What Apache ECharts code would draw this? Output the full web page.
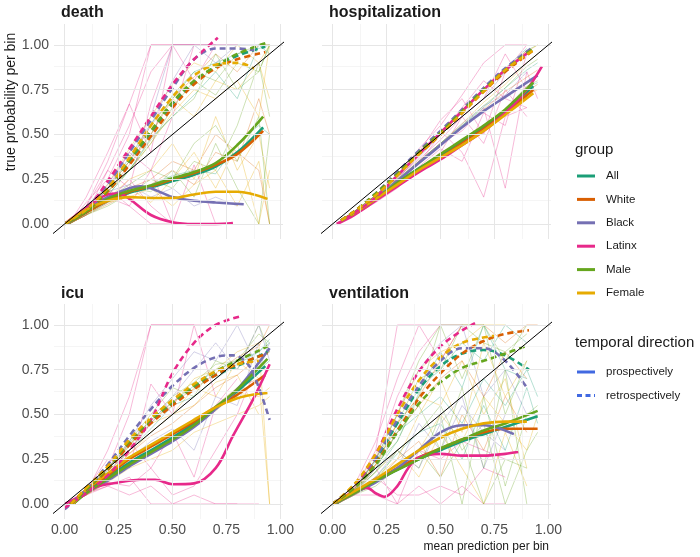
<!DOCTYPE html>
<html><head><meta charset="utf-8">
<script src="https://cdn.jsdelivr.net/npm/echarts@6/dist/echarts.min.js"></script>
<style>html,body{margin:0;padding:0;background:#fff}#c{width:700px;height:557px}</style>
</head><body><div id="c"></div><script>
const groups = ['All','White','Black','Latinx','Male','Female'];
const groupColors = ['#1B9E77','#D95F02','#7570B3','#E7298A','#66A61E','#E6AB02'];
const directions = ['prospectively','retrospectively'];
const directionColor = '#4169E1';
const panelTitles = ['death','hospitalization','icu','ventilation'];
const tickValues = [0,0.25,0.5,0.75,1];
const majorGrid = [0,0.25,0.5,0.75,1];
const minorGrid = [0.125,0.375,0.625,0.875];
const xRange = [-0.049, 1.012];
const yRange = [-0.084, 1.117];
const diagonal = [[-0.2,-0.2],[1.2,1.2]];

// ---- smoothed curves: [mean prediction, true probability] ----
const deathPro = {
  All:    [[0,0],[0.1,0.065],[0.2,0.13],[0.3,0.175],[0.4,0.205],[0.5,0.24],[0.6,0.275],[0.7,0.32],[0.8,0.4],[0.92,0.54]],
  White:  [[0,0],[0.1,0.065],[0.2,0.13],[0.3,0.18],[0.4,0.21],[0.5,0.25],[0.6,0.285],[0.7,0.33],[0.8,0.39],[0.92,0.52]],
  Black:  [[0,0],[0.1,0.08],[0.2,0.15],[0.3,0.2],[0.35,0.21],[0.4,0.2],[0.5,0.15],[0.6,0.13],[0.7,0.12],[0.83,0.11]],
  Latinx: [[0,0],[0.1,0.09],[0.2,0.165],[0.25,0.17],[0.3,0.14],[0.4,0.05],[0.5,0.01],[0.6,0],[0.7,0],[0.78,0.005]],
  Male:   [[0,0],[0.1,0.07],[0.2,0.14],[0.3,0.185],[0.4,0.215],[0.5,0.255],[0.6,0.29],[0.7,0.34],[0.8,0.44],[0.92,0.6]],
  Female: [[0,0],[0.1,0.08],[0.2,0.13],[0.3,0.15],[0.4,0.145],[0.5,0.145],[0.6,0.165],[0.7,0.18],[0.8,0.18],[0.94,0.14]]
};
const deathRetro = {
  All:    [[0,0],[0.1,0.07],[0.2,0.19],[0.3,0.35],[0.4,0.51],[0.5,0.67],[0.6,0.79],[0.7,0.88],[0.8,0.94],[0.93,0.99]],
  White:  [[0,0],[0.1,0.07],[0.2,0.18],[0.3,0.33],[0.4,0.49],[0.5,0.65],[0.6,0.78],[0.7,0.87],[0.8,0.92],[0.93,0.96]],
  Black:  [[0,0],[0.1,0.08],[0.2,0.22],[0.3,0.4],[0.4,0.58],[0.5,0.76],[0.6,0.92],[0.7,0.98],[0.8,0.98],[0.88,0.97]],
  Latinx: [[0,0],[0.1,0.08],[0.2,0.24],[0.3,0.42],[0.4,0.6],[0.5,0.78],[0.6,0.92],[0.71,1.04]],
  Male:   [[0,0],[0.1,0.07],[0.2,0.19],[0.3,0.36],[0.4,0.52],[0.5,0.68],[0.6,0.8],[0.7,0.88],[0.8,0.95],[0.93,1.01]],
  Female: [[0,0],[0.1,0.08],[0.2,0.2],[0.3,0.37],[0.4,0.55],[0.5,0.71],[0.6,0.83],[0.7,0.89],[0.8,0.9],[0.88,0.87]]
};
const hospPro = {
  All:    [[0.04,0.02],[0.1,0.06],[0.2,0.14],[0.3,0.23],[0.4,0.31],[0.5,0.38],[0.6,0.46],[0.7,0.54],[0.8,0.63],[0.93,0.77]],
  White:  [[0.04,0.02],[0.1,0.06],[0.2,0.14],[0.3,0.22],[0.4,0.3],[0.5,0.37],[0.6,0.45],[0.7,0.53],[0.8,0.62],[0.93,0.75]],
  Black:  [[0.04,0.02],[0.1,0.06],[0.2,0.14],[0.3,0.24],[0.4,0.34],[0.5,0.44],[0.6,0.54],[0.7,0.63],[0.8,0.71],[0.95,0.83]],
  Latinx: [[0.02,0],[0.1,0.05],[0.2,0.13],[0.3,0.21],[0.4,0.29],[0.5,0.36],[0.6,0.44],[0.7,0.52],[0.8,0.62],[0.9,0.75],[0.97,0.88]],
  Male:   [[0.04,0.02],[0.1,0.06],[0.2,0.14],[0.3,0.23],[0.4,0.31],[0.5,0.39],[0.6,0.47],[0.7,0.55],[0.8,0.64],[0.93,0.79]],
  Female: [[0.04,0.02],[0.1,0.06],[0.2,0.14],[0.3,0.22],[0.4,0.3],[0.5,0.37],[0.6,0.44],[0.7,0.52],[0.8,0.61],[0.93,0.73]]
};
const hospRetro = {
  All:    [[0.04,0.02],[0.1,0.07],[0.2,0.16],[0.3,0.28],[0.4,0.4],[0.5,0.51],[0.6,0.63],[0.7,0.75],[0.8,0.86],[0.93,0.98]],
  White:  [[0.04,0.02],[0.1,0.07],[0.2,0.16],[0.3,0.28],[0.4,0.39],[0.5,0.5],[0.6,0.62],[0.7,0.74],[0.8,0.85],[0.93,0.97]],
  Black:  [[0.04,0.02],[0.1,0.07],[0.2,0.17],[0.3,0.29],[0.4,0.41],[0.5,0.52],[0.6,0.64],[0.7,0.76],[0.8,0.87],[0.93,0.99]],
  Latinx: [[0.02,0],[0.1,0.06],[0.2,0.15],[0.3,0.27],[0.4,0.39],[0.5,0.51],[0.6,0.63],[0.7,0.75],[0.8,0.86],[0.92,0.97]],
  Male:   [[0.04,0.02],[0.1,0.07],[0.2,0.17],[0.3,0.28],[0.4,0.4],[0.5,0.51],[0.6,0.63],[0.7,0.75],[0.8,0.86],[0.93,0.98]],
  Female: [[0.04,0.02],[0.1,0.07],[0.2,0.16],[0.3,0.27],[0.4,0.39],[0.5,0.5],[0.6,0.62],[0.7,0.74],[0.8,0.86],[0.93,0.97]]
};
const icuPro = {
  All:    [[0.04,0],[0.1,0.07],[0.2,0.15],[0.3,0.23],[0.4,0.3],[0.5,0.37],[0.6,0.45],[0.7,0.54],[0.8,0.63],[0.93,0.77]],
  White:  [[0.04,0],[0.1,0.08],[0.2,0.16],[0.3,0.25],[0.4,0.32],[0.5,0.39],[0.6,0.46],[0.7,0.54],[0.8,0.61],[0.93,0.72]],
  Black:  [[0.04,0],[0.1,0.06],[0.2,0.13],[0.3,0.21],[0.4,0.28],[0.5,0.35],[0.6,0.43],[0.7,0.53],[0.8,0.64],[0.95,0.87]],
  Latinx: [[0,0],[0.05,0.03],[0.1,0.07],[0.16,0.1],[0.25,0.12],[0.35,0.135],[0.42,0.135],[0.5,0.11],[0.6,0.115],[0.7,0.2],[0.78,0.38],[0.88,0.6],[0.95,0.78]],
  Male:   [[0.04,0],[0.1,0.06],[0.2,0.14],[0.3,0.22],[0.4,0.29],[0.5,0.36],[0.6,0.44],[0.7,0.54],[0.8,0.64],[0.94,0.81]],
  Female: [[0.04,0],[0.1,0.08],[0.2,0.17],[0.3,0.26],[0.4,0.33],[0.5,0.4],[0.6,0.47],[0.7,0.54],[0.8,0.59],[0.87,0.61],[0.94,0.62]]
};
const icuRetro = {
  All:    [[0.03,0],[0.1,0.08],[0.2,0.2],[0.3,0.34],[0.4,0.46],[0.5,0.56],[0.6,0.65],[0.7,0.72],[0.8,0.77],[0.94,0.85]],
  White:  [[0.03,0],[0.1,0.08],[0.2,0.19],[0.3,0.33],[0.4,0.45],[0.5,0.55],[0.6,0.64],[0.7,0.72],[0.8,0.78],[0.94,0.84]],
  Black:  [[0,-0.03],[0.1,0.08],[0.2,0.22],[0.3,0.38],[0.4,0.53],[0.5,0.66],[0.6,0.76],[0.7,0.82],[0.78,0.83],[0.85,0.78],[0.9,0.65],[0.95,0.47]],
  Latinx: [[0,-0.02],[0.1,0.06],[0.2,0.16],[0.3,0.3],[0.4,0.47],[0.5,0.73],[0.6,0.9],[0.7,1.0],[0.82,1.05]],
  Male:   [[0.03,0],[0.1,0.08],[0.2,0.2],[0.3,0.35],[0.4,0.47],[0.5,0.57],[0.6,0.66],[0.7,0.74],[0.8,0.8],[0.94,0.88]],
  Female: [[0.03,0],[0.1,0.09],[0.2,0.21],[0.3,0.36],[0.4,0.48],[0.5,0.58],[0.6,0.67],[0.7,0.74],[0.8,0.78],[0.9,0.8]]
};
const ventPro = {
  All:    [[0,0],[0.1,0.06],[0.2,0.13],[0.3,0.19],[0.4,0.25],[0.5,0.3],[0.6,0.35],[0.7,0.39],[0.8,0.43],[0.95,0.49]],
  White:  [[0,0],[0.1,0.06],[0.2,0.13],[0.3,0.2],[0.4,0.26],[0.5,0.31],[0.6,0.36],[0.7,0.4],[0.8,0.42],[0.95,0.42]],
  Black:  [[0,0],[0.1,0.06],[0.2,0.12],[0.3,0.2],[0.4,0.3],[0.5,0.4],[0.6,0.44],[0.7,0.44],[0.84,0.39]],
  Latinx: [[0,0],[0.1,0.07],[0.16,0.09],[0.2,0.06],[0.24,0.04],[0.3,0.1],[0.35,0.2],[0.4,0.26],[0.5,0.28],[0.6,0.27],[0.7,0.27],[0.8,0.28],[0.86,0.29]],
  Male:   [[0,0],[0.1,0.06],[0.2,0.13],[0.3,0.19],[0.4,0.25],[0.5,0.31],[0.6,0.36],[0.7,0.41],[0.8,0.45],[0.95,0.52]],
  Female: [[0,0],[0.1,0.07],[0.2,0.14],[0.3,0.22],[0.4,0.3],[0.5,0.37],[0.6,0.42],[0.7,0.45],[0.8,0.46],[0.9,0.46]]
};
const ventRetro = {
  All:    [[0,0],[0.1,0.1],[0.2,0.25],[0.3,0.45],[0.4,0.64],[0.5,0.77],[0.6,0.84],[0.7,0.86],[0.8,0.83],[0.91,0.75]],
  White:  [[0,0],[0.1,0.09],[0.2,0.23],[0.3,0.41],[0.4,0.59],[0.5,0.73],[0.6,0.84],[0.7,0.91],[0.8,0.95],[0.91,0.97]],
  Black:  [[0,0],[0.1,0.1],[0.2,0.26],[0.3,0.47],[0.4,0.66],[0.5,0.8],[0.6,0.87],[0.7,0.87],[0.8,0.8],[0.9,0.65]],
  Latinx: [[0,0],[0.1,0.1],[0.2,0.28],[0.3,0.53],[0.4,0.74],[0.5,0.88],[0.6,0.97],[0.66,1.01]],
  Male:   [[0,0],[0.1,0.09],[0.2,0.22],[0.3,0.4],[0.4,0.56],[0.5,0.68],[0.6,0.76],[0.7,0.8],[0.8,0.84],[0.89,0.88]],
  Female: [[0,0],[0.1,0.11],[0.2,0.28],[0.3,0.5],[0.4,0.69],[0.5,0.82],[0.6,0.9],[0.75,0.94]]
};

// ---- raw per-bin curves (thin lines) ----
const binX = [0.02,0.1,0.2,0.3,0.4,0.5,0.6,0.7,0.8,0.9,0.95];
const hospBinX = [0.04,0.1,0.2,0.3,0.4,0.5,0.6,0.7,0.8,0.9,0.95];
const deathThinGroup = [3,3,3,3,3,2,2,4,4,4,5,5,5,1,1,0,0,5,4,3, 3,3,4,5,0,1,5,4,2,3];
const deathThinY = [
  [0,0.1,0.35,0.67,0.4,1,1,null,null,null,null],
  [0,0.05,0.3,0.2,0.67,1,1,1,null,null,null],
  [0,0.08,0.15,0.1,0,0,0,0,null,null,null],
  [0,0.12,0.25,0.5,1,1,null,null,null,null,null],
  [0,0.06,0.12,0.25,0.1,0,0.33,0,null,null,null],
  [0,0.1,0.22,0.4,0.6,1,1,1,1,1,null],
  [0,0.06,0.18,0.22,0.15,0.2,0.1,0.15,0.1,null,null],
  [0,0.07,0.2,0.35,0.5,0.72,0.85,0.8,0.95,1,1],
  [0,0.05,0.1,0.17,0.25,0.2,0.35,0.3,0.55,0.9,0.6],
  [0,0.06,0.15,0.2,0.18,0.3,0.15,0.45,0.2,0,0.5],
  [0,0.08,0.22,0.42,0.6,0.78,0.9,0.85,1,0.9,1],
  [0,0.05,0.12,0.15,0.2,0.1,0.22,0.3,0.1,0.35,0],
  [0,0.06,0.14,0.25,0.3,0.45,0.25,0.6,0.3,0.5,0.2],
  [0,0.06,0.18,0.33,0.5,0.7,0.82,0.95,0.85,1,1],
  [0,0.05,0.11,0.17,0.22,0.3,0.22,0.4,0.35,0.7,0.5],
  [0,0.07,0.2,0.37,0.56,0.7,0.85,0.9,0.95,0.98,1],
  [0,0.05,0.12,0.18,0.22,0.27,0.3,0.28,0.45,0.55,0.5],
  [0,0.07,0.18,0.3,0.45,0.62,0.75,0.7,0.8,0.6,1],
  [0,0.06,0.16,0.3,0.47,0.6,0.7,0.95,0.75,0.85,1],
  [0,0.1,0.3,0.55,0.85,1,0.8,1,null,null,null],
  [0,0.15,0.4,0.67,1,1,1,1,1,null,null],
  [0,0.05,0.2,0.4,0.3,0.6,1,null,null,null,null],
  [0,0.07,0.18,0.3,0.45,0.65,0.8,0.72,0.9,0.85,1],
  [0,0.08,0.2,0.35,0.55,0.7,0.6,0.8,0.75,0.9,0.7],
  [0,0.06,0.16,0.3,0.48,0.6,0.72,0.85,0.7,1,0.95],
  [0,0.06,0.15,0.2,0.25,0.35,0.3,0.5,0.4,0.3,0],
  [0,0.05,0.13,0.2,0.12,0.25,0.4,0.2,0.45,0,0.3],
  [0,0.06,0.14,0.22,0.3,0.25,0.45,0.55,0.35,0.6,0],
  [0,0.07,0.2,0.35,0.55,0.8,1,0.9,1,null,null],
  [0,0.1,0.2,0.1,0.3,0,0,null,null,null,null]
];
const hospThinGroup = [3,3,3,3,3,2,2,4,4,5,5,1,1,0,0, 3,3,3,5,4,0,1];
const hospThinY = [
  [0.02,0.06,0.15,0.27,0.42,0.55,0.72,0.9,1,1,null],
  [0.02,0.05,0.13,0.22,0.3,0.4,0.6,0.45,0.75,0.6,null],
  [0.02,0.06,0.14,0.24,0.35,0.45,0.52,0.65,0.2,0.85,0.7],
  [0.02,0.07,0.16,0.28,0.4,0.58,0.7,0.5,0.85,1,null],
  [0.02,0.05,0.12,0.2,0.32,0.42,0.35,0.62,0.55,0.95,null],
  [0.02,0.06,0.15,0.26,0.37,0.5,0.6,0.7,0.85,0.95,null],
  [0.02,0.06,0.14,0.24,0.35,0.45,0.56,0.66,0.72,0.85,null],
  [0.02,0.07,0.16,0.27,0.39,0.5,0.62,0.74,0.85,0.97,1],
  [0.02,0.06,0.14,0.23,0.31,0.39,0.47,0.55,0.64,0.77,0.8],
  [0.02,0.07,0.16,0.27,0.38,0.5,0.62,0.75,0.86,0.96,1],
  [0.02,0.06,0.13,0.22,0.3,0.38,0.46,0.54,0.63,0.72,0.75],
  [0.02,0.07,0.16,0.27,0.39,0.51,0.63,0.75,0.86,0.97,null],
  [0.02,0.06,0.14,0.23,0.31,0.39,0.47,0.55,0.63,0.74,0.78],
  [0.02,0.07,0.16,0.27,0.4,0.51,0.63,0.75,0.87,0.98,null],
  [0.02,0.06,0.14,0.23,0.31,0.39,0.47,0.55,0.64,0.76,0.79],
  [0.02,0.06,0.14,0.25,0.38,0.52,0.4,0.15,0.6,0.65,null],
  [0.02,0.05,0.13,0.23,0.34,0.5,0.65,0.8,0.7,0.65,null],
  [0.02,0.06,0.15,0.26,0.36,0.47,0.6,0.7,0.95,0.75,null],
  [0.02,0.06,0.15,0.25,0.35,0.45,0.56,0.68,0.78,0.9,0.95],
  [0.02,0.06,0.15,0.25,0.35,0.45,0.55,0.66,0.76,0.88,0.92],
  [0.02,0.06,0.15,0.25,0.35,0.45,0.55,0.65,0.76,0.86,0.9],
  [0.02,0.06,0.14,0.24,0.34,0.44,0.54,0.64,0.74,0.82,0.86]
];
const icuThinGroup = [3,3,3,3,3,2,2,4,4,5,5,1,1,0,0,5, 3,3,4,5,0,1,2,5];
const icuThinY = [
  [0,0.05,0.2,0.5,1,1,1,1,1,1,1],
  [0,0.06,0.1,0.15,0,0,0,0,0,null,null],
  [0,0.08,0.25,0.2,0.67,0.5,1,0.6,null,null,null],
  [0,0.05,0.12,0.1,0.2,0.05,0.1,0.3,0.5,0.8,null],
  [0,0.07,0.15,0.35,0.2,0.4,0.15,0.55,0.7,null,null],
  [0,0.06,0.2,0.35,0.55,0.7,0.85,0.8,1,0.75,0.9],
  [0,0.06,0.12,0.25,0.35,0.42,0.3,0.6,0.55,0.9,null],
  [0,0.07,0.2,0.32,0.48,0.6,0.68,0.78,0.8,0.95,0.9],
  [0,0.06,0.13,0.24,0.3,0.4,0.45,0.55,0.6,0.8,0.85],
  [0,0.07,0.19,0.33,0.47,0.55,0.7,0.75,0.85,0.9,0],
  [0,0.05,0.14,0.22,0.32,0.36,0.48,0.52,0.62,0.6,0.65],
  [0,0.07,0.2,0.33,0.45,0.57,0.64,0.73,0.82,0.88,1],
  [0,0.05,0.13,0.22,0.3,0.37,0.47,0.55,0.65,0.7,0.75],
  [0,0.07,0.19,0.34,0.47,0.57,0.66,0.75,0.8,0.85,0.92],
  [0,0.06,0.13,0.23,0.32,0.38,0.45,0.53,0.65,0.75,0.8],
  [0,0.06,0.15,0.28,0.4,0.5,0.55,0.68,0.72,0.5,null],
  [0,0.06,0.3,0.6,1,1,1,null,null,null,null],
  [0,0.05,0.1,0.05,0.1,0,0.05,0,0,0,null],
  [0,0.07,0.2,0.35,0.5,0.65,0.6,0.8,0.75,1,0.85],
  [0,0.06,0.17,0.3,0.45,0.5,0.65,0.6,0.8,0.7,0],
  [0,0.07,0.18,0.3,0.42,0.55,0.6,0.7,0.78,0.85,0.9],
  [0,0.06,0.16,0.28,0.38,0.45,0.55,0.65,0.72,0.82,0.85],
  [0,0.05,0.15,0.3,0.45,0.6,0.75,0.9,0.75,1,0.8],
  [0,0.05,0.12,0.2,0.25,0.3,0.4,0.45,0.5,0.55,0.6]
];
const ventThinGroup = [3,3,3,3,2,2,4,4,4,5,5,1,1,0,0,4,5,3, 4,5,0,1,4,5,3,2,0,4];
const ventThinY = [
  [0,0.08,0.3,1,1,1,1,null,null,null,null],
  [0,0.05,0.05,0,0.1,0,0.1,0,0,null,null],
  [0,0.1,0.35,0.7,1,0.8,1,null,null,null,null],
  [0,0.06,0.2,0,0.3,0.25,0.35,0.3,0.25,null,null],
  [0,0.08,0.25,0.5,0.75,0.9,1,0.6,0.75,0.5,null],
  [0,0.05,0.12,0.2,0.45,0.3,0.55,0.4,0.3,null,null],
  [0,0.08,0.25,0.45,0.7,0.75,1,0.9,0.85,0.95,null],
  [0,0.06,0.12,0.3,0.2,0.5,0,0.6,0.1,0.5,0.55],
  [0,0.07,0.2,0.4,0.55,0.3,0.65,0.2,0.75,0,null],
  [0,0.09,0.28,0.5,0.75,0.85,0.9,1,1,null,null],
  [0,0.06,0.14,0.2,0.3,0.5,0.35,0.6,0.45,0.3,0.5],
  [0,0.08,0.22,0.45,0.6,0.8,1,1,0.9,1,1],
  [0,0.05,0.12,0.25,0.35,0.15,0.5,0.3,0.6,0.4,null],
  [0,0.08,0.24,0.42,0.65,0.75,0.9,0.8,1,0.9,null],
  [0,0.06,0.15,0.28,0.4,0.45,0.25,0.55,0.3,0.65,0.45],
  [0,0.07,0.22,0.35,0.6,1,0.7,1,0.5,0.8,null],
  [0,0.07,0.18,0.3,0.15,0.4,0.2,0,0.4,0.1,null],
  [0,0.09,0.25,0.6,0.85,1,null,null,null,null,null],
  [0,0.07,0.25,0.5,0.8,1,1,1,0.8,1,null],
  [0,0.08,0.22,0.45,0.6,0.55,0.8,0.5,0.7,0.2,null],
  [0,0.07,0.2,0.4,0.5,0.6,0.45,0.7,0.55,0.75,0.6],
  [0,0.07,0.22,0.4,0.55,0.7,0.8,0.6,0.85,0.7,null],
  [0,0.05,0.1,0.2,0.3,0.15,0.35,0,0.25,0.2,null],
  [0,0.06,0.15,0.25,0.5,0.7,0.4,0.9,0.6,0.8,null],
  [0,0.07,0.15,0.05,0.05,0.1,0.05,0.2,0.15,null,null],
  [0,0.06,0.15,0.3,0.2,0.45,0.6,0.2,0.5,null,null],
  [0,0.06,0.18,0.35,0.62,0.85,0.65,1,0.75,0.7,null],
  [0,0.07,0.18,0.3,0.4,0.55,0.3,0.45,0,0.3,0.4]
];

const panels = [
  {pro: deathPro, retro: deathRetro, thinX: binX, thinG: deathThinGroup, thinY: deathThinY},
  {pro: hospPro, retro: hospRetro, thinX: hospBinX, thinG: hospThinGroup, thinY: hospThinY},
  {pro: icuPro, retro: icuRetro, thinX: binX, thinG: icuThinGroup, thinY: icuThinY},
  {pro: ventPro, retro: ventRetro, thinX: binX, thinG: ventThinGroup, thinY: ventThinY}
];

// ---- layout ----
const FONT = '"Liberation Sans", Arial, sans-serif';
const boxes = [{left:54,top:24},{left:322,top:24},{left:54,top:304},{left:322,top:304}];
const PW = 229, PH = 215;

const grids = boxes.map(b => ({left:b.left, top:b.top, width:PW, height:PH, containLabel:false}));
const xAxes = boxes.map((b,i) => ({
  type:'value', gridIndex:i, min:xRange[0], max:xRange[1],
  axisLine:{show:false}, axisTick:{show:false, customValues:tickValues}, splitLine:{show:false},
  axisLabel:{show:i>=2, customValues:tickValues, margin:4, fontSize:14, color:'#4D4D4D', fontFamily:FONT,
    formatter:v=>v.toFixed(2)}
}));
const yAxes = boxes.map((b,i) => ({
  type:'value', gridIndex:i, min:yRange[0], max:yRange[1],
  axisLine:{show:false}, axisTick:{show:false, customValues:tickValues}, splitLine:{show:false},
  axisLabel:{show:i%2===0, customValues:tickValues, margin:5, fontSize:14, color:'#4D4D4D', fontFamily:FONT,
    formatter:v=>v.toFixed(2)}
}));

const series = [];
panels.forEach((p, i) => {
  const gl = [];
  minorGrid.forEach(v => { gl.push({xAxis:v, lineStyle:{color:'#f1f1f1', width:0.7, type:'solid'}}); gl.push({yAxis:v, lineStyle:{color:'#f1f1f1', width:0.7, type:'solid'}}); });
  majorGrid.forEach(v => { gl.push({xAxis:v, lineStyle:{color:'#e6e6e6', width:1, type:'solid'}}); gl.push({yAxis:v, lineStyle:{color:'#e6e6e6', width:1, type:'solid'}}); });
  series.push({type:'line', xAxisIndex:i, yAxisIndex:i, data:[], silent:true, z:1,
    markLine:{silent:true, symbol:['none','none'], label:{show:false}, emphasis:{disabled:true}, data:gl}});
  p.thinY.forEach((ys, k) => {
    const d = [];
    ys.forEach((y, j) => { if (y !== null) d.push([p.thinX[j], y]); });
    series.push({type:'line', xAxisIndex:i, yAxisIndex:i, data:d, symbol:'none', silent:true, z:2,
      lineStyle:{color:groupColors[p.thinG[k]], width:1, opacity:0.32}, emphasis:{disabled:true}});
  });
  groups.forEach((g, gi) => {
    series.push({type:'line', xAxisIndex:i, yAxisIndex:i, data:p.pro[g], symbol:'none', smooth:0.35, silent:true, z:3,
      lineStyle:{color:groupColors[gi], width:2.6}, emphasis:{disabled:true}});
  });
  groups.forEach((g, gi) => {
    series.push({type:'line', xAxisIndex:i, yAxisIndex:i, data:p.retro[g], symbol:'none', smooth:0.35, silent:true, z:4,
      lineStyle:{color:groupColors[gi], width:2.6, type:[6,4]}, emphasis:{disabled:true}});
  });
  series.push({type:'line', xAxisIndex:i, yAxisIndex:i, data:diagonal, symbol:'none', silent:true, z:5,
    lineStyle:{color:'#000', width:1}, emphasis:{disabled:true}});
});

// ---- texts & legends ----
const graphic = [];
const titlePos = [[61,13],[329,13],[61,294],[329,294]];
panelTitles.forEach((t, i) => graphic.push({type:'text', x:titlePos[i][0], y:titlePos[i][1],
  style:{text:t, font:'bold 16px ' + FONT, fill:'#1a1a1a', align:'left', verticalAlign:'middle'}}));
graphic.push({type:'text', x:11, y:102, rotation:Math.PI/2,
  style:{text:'true probability per bin', font:'14px ' + FONT, fill:'#1a1a1a', align:'center', verticalAlign:'middle'}});
graphic.push({type:'text', x:549, y:547,
  style:{text:'mean prediction per bin', font:'12px ' + FONT, fill:'#1a1a1a', align:'right', verticalAlign:'middle'}});
graphic.push({type:'text', x:575, y:150, style:{text:'group', font:'15px ' + FONT, fill:'#1a1a1a', align:'left', verticalAlign:'middle'}});
groups.forEach((g, gi) => {
  const y = 176 + gi * 23.4;
  graphic.push({type:'line', shape:{x1:577, y1:y, x2:595, y2:y}, style:{stroke:groupColors[gi], lineWidth:3}});
  graphic.push({type:'text', x:606, y:y, style:{text:g, font:'11.5px ' + FONT, fill:'#1a1a1a', align:'left', verticalAlign:'middle'}});
});
graphic.push({type:'text', x:575, y:343, style:{text:'temporal direction', font:'15px ' + FONT, fill:'#1a1a1a', align:'left', verticalAlign:'middle'}});
directions.forEach((d, di) => {
  const y = 372 + di * 23.4;
  graphic.push({type:'line', shape:{x1:577, y1:y, x2:595, y2:y}, style:{stroke:directionColor, lineWidth:3, lineDash: di ? [5,3.5] : null}});
  graphic.push({type:'text', x:606, y:y, style:{text:d, font:'11.5px ' + FONT, fill:'#1a1a1a', align:'left', verticalAlign:'middle'}});
});

const chart = echarts.init(document.getElementById('c'), null, {renderer:'canvas'});
chart.setOption({
  animation:false, backgroundColor:'#ffffff',
  grid:grids, xAxis:xAxes, yAxis:yAxes, series:series, graphic:graphic
});
</script></body></html>
